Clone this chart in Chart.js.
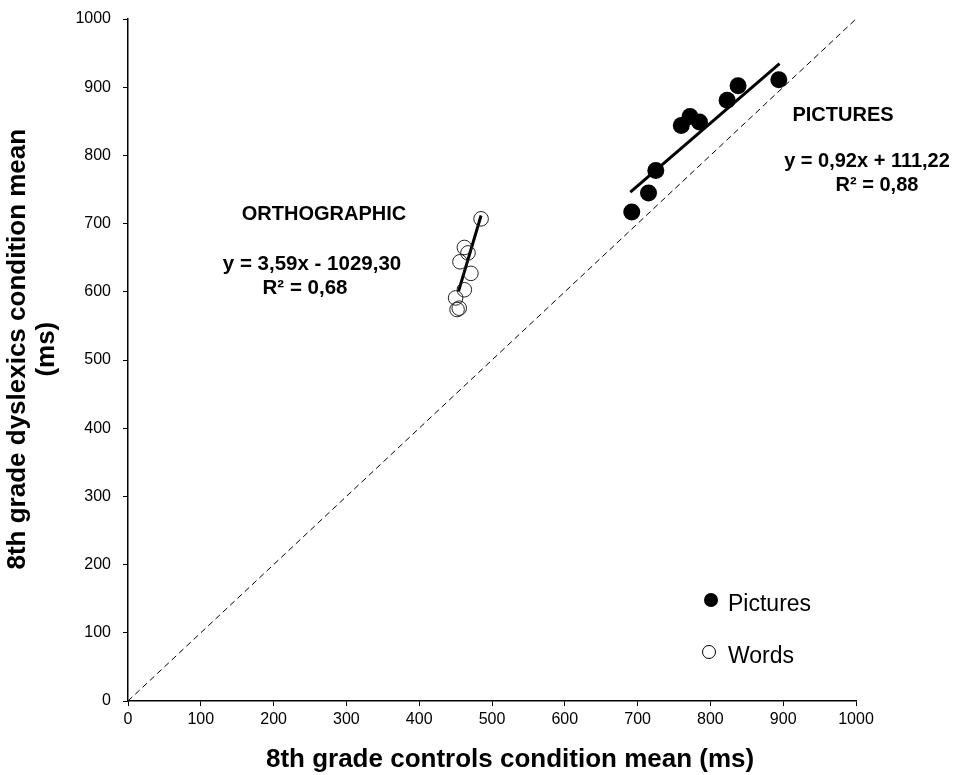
<!DOCTYPE html>
<html>
<head>
<meta charset="utf-8">
<script src="https://cdn.jsdelivr.net/npm/chart.js@4.4.1/dist/chart.umd.min.js"></script>
<style>
  html, body { margin: 0; padding: 0; background: #fff; }
  #wrap { width: 966px; height: 775px; }
</style>
</head>
<body>
<div id="wrap"><canvas id="myChart" width="966" height="775"></canvas></div>
<script>
// values (ms)
const picturesX = [692, 715, 725, 760, 772, 785, 823, 838, 894];
const picturesY = [717, 745, 778, 844, 857, 849, 881, 902, 911];
const wordsX = [485, 462, 467, 456, 471, 462, 450, 455, 452];
const wordsY = [707, 665, 657, 644, 627, 603, 591, 576, 574];

// regression lines as printed on the figure
const picturesFit = { slope: 0.92, intercept: 111.22, from: 690, to: 895 };
const wordsFit = { slope: 3.59, intercept: -1029.30, from: 454, to: 485 };

const axisTicks = [0, 100, 200, 300, 400, 500, 600, 700, 800, 900, 1000];

const FONT = "'Liberation Sans', Arial, Helvetica, sans-serif";

function pts(xs, ys) {
  return xs.map((x, i) => ({ x: x, y: ys[i] }));
}
function fitLine(f) {
  return [
    { x: f.from, y: f.slope * f.from + f.intercept },
    { x: f.to, y: f.slope * f.to + f.intercept }
  ];
}

// text labels and legend drawn on top
const notes = {
  id: 'notes',
  afterDraw(chart) {
    const ctx = chart.ctx;
    ctx.save();
    ctx.fillStyle = '#000';
    ctx.textBaseline = 'middle';
    ctx.textAlign = 'center';
    ctx.font = 'bold 20px ' + FONT;
    ctx.fillText('PICTURES', 843, 115);
    ctx.fillText('y = 0,92x + 111,22', 867, 161);
    ctx.fillText('R² = 0,88', 877, 185);
    ctx.fillText('ORTHOGRAPHIC', 324, 214);
    ctx.font = 'bold 20.5px ' + FONT;
    ctx.fillText('y = 3,59x - 1029,30', 312, 264);
    ctx.fillText('R² = 0,68', 305, 288);

    // legend
    ctx.textAlign = 'left';
    ctx.font = '23px ' + FONT;
    ctx.beginPath();
    ctx.arc(711, 600, 7, 0, Math.PI * 2);
    ctx.fill();
    ctx.fillText('Pictures', 728, 605);
    ctx.beginPath();
    ctx.arc(709, 652, 6.5, 0, Math.PI * 2);
    ctx.lineWidth = 1;
    ctx.strokeStyle = '#000';
    ctx.stroke();
    ctx.fillText('Words', 728, 657);
    ctx.restore();
  }
};

const ctx = document.getElementById('myChart').getContext('2d');
new Chart(ctx, {
  type: 'scatter',
  data: {
    datasets: [
      {
        type: 'line',
        label: 'identity',
        data: [{ x: 0, y: 0 }, { x: 1000, y: 1000 }],
        borderColor: '#000',
        borderWidth: 1,
        borderDash: [6, 4],
        pointRadius: 0,
        fill: false
      },
      {
        label: 'Pictures',
        data: pts(picturesX, picturesY),
        backgroundColor: '#000',
        borderColor: '#000',
        pointRadius: 8.5,
        borderWidth: 0
      },
      {
        label: 'Words',
        data: pts(wordsX, wordsY),
        backgroundColor: 'rgba(255,255,255,0)',
        borderColor: '#222',
        pointRadius: 7.3,
        borderWidth: 1
      },
      {
        type: 'line',
        label: 'fitPictures',
        data: fitLine(picturesFit),
        borderColor: '#000',
        borderWidth: 3,
        pointRadius: 0,
        fill: false
      },
      {
        type: 'line',
        label: 'fitWords',
        data: fitLine(wordsFit),
        borderColor: '#000',
        borderWidth: 3,
        pointRadius: 0,
        fill: false
      }
    ]
  },
  options: {
    responsive: false,
    animation: false,
    layout: { padding: { top: 19, right: 110, left: 0, bottom: 0 } },
    plugins: {
      legend: { display: false },
      tooltip: { enabled: false }
    },
    scales: {
      x: {
        type: 'linear',
        min: 0,
        max: 1000,
        afterBuildTicks(scale) { scale.ticks = axisTicks.map(v => ({ value: v })); },
        afterFit(scale) { scale.height = 74; },
        grid: { drawOnChartArea: false, color: '#000', tickLength: 5, tickColor: '#000' },
        border: { color: '#000', width: 1.5 },
        ticks: {
          color: '#000', font: { family: FONT, size: 16 }, padding: 4, maxRotation: 0,
          callback: v => String(v)
        },
        title: {
          display: true,
          // leading spaces nudge the centred title right, as in the original
          text: '     8th grade controls condition mean (ms)',
          color: '#000',
          font: { family: FONT, size: 26, weight: 'bold' },
          padding: { top: 0, bottom: 0 }
        }
      },
      y: {
        type: 'linear',
        min: 0,
        max: 1000,
        afterBuildTicks(scale) { scale.ticks = axisTicks.map(v => ({ value: v })); },
        afterFit(scale) {
          scale.width = 128;
          scale.paddingTop = 0;
          scale.paddingBottom = 0;
        },
        grid: { drawOnChartArea: false, color: '#000', tickLength: 5, tickColor: '#000' },
        border: { color: '#000', width: 1.5 },
        ticks: {
          color: '#000', font: { family: FONT, size: 16 }, padding: 12,
          callback: v => String(v)
        },
        title: {
          display: true,
          text: ['   8th grade dyslexics condition mean', '   (ms)'],
          color: '#000',
          font: { family: FONT, size: 26, weight: 'bold', lineHeight: 1.1 },
          padding: { top: 4, bottom: 0 }
        }
      }
    }
  },
  plugins: [notes]
});
</script>
</body>
</html>
